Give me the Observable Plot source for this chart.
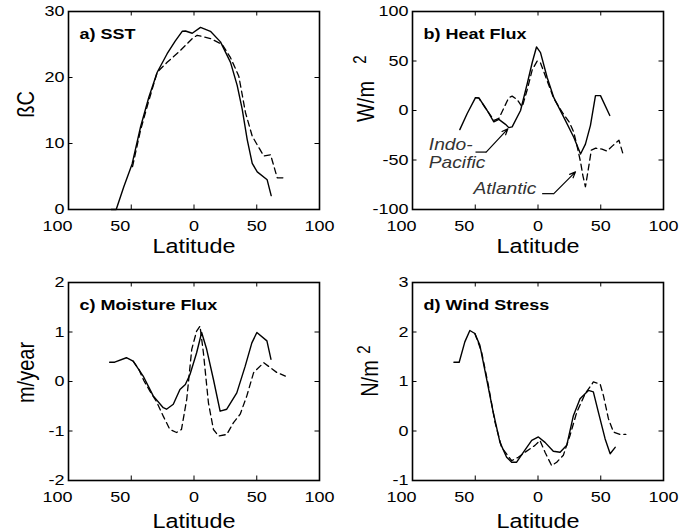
<!DOCTYPE html>
<html><head><meta charset="utf-8">
<script src="https://cdn.jsdelivr.net/npm/d3@7"></script>
<script src="https://cdn.jsdelivr.net/npm/@observablehq/plot@0.6"></script>
<style>
body{margin:0;background:#fff;}
#chart{position:relative;width:687px;height:531px;background:#fff;}
#chart svg{position:absolute;overflow:visible;}
</style></head><body><div id="chart"></div>
<script>
// ---- tick labels ----
const latTicks = [-100, -50, 0, 50, 100];
const sstTicks = [0, 10, 20, 30];
const heatTicks = [-100, -50, 0, 50, 100];
const moistTicks = [-2, -1, 0, 1, 2];
const windTicks = [-1, 0, 1, 2, 3];

// ---- a) SST ----
const sstSolidLat = [-66, -62, -56, -49.3, -42.6, -36, -29.3, -21.4, -15, -9.4, -6.8, -1.4, 5.2, 13.1, 21.1, 29.1, 34.4, 38.4, 42.4, 46.4, 50.4, 58.3, 61.5];
const sstSolidVal = [0, 0, 3.4, 6.9, 12.5, 17, 20.8, 23.6, 25.5, 27.0, 27.05, 26.7, 27.6, 27, 25.4, 22.3, 18.8, 15.2, 10.6, 7.0, 5.7, 4.5, 2.1];
const sstDashLat = [-49, -42.6, -36, -29.3, -21.4, -10.8, -1.4, 2.5, 13.1, 22.5, 29.1, 35.7, 41, 46.4, 55.6, 61, 66.3, 72.9];
const sstDashVal = [6.5, 12, 16.5, 20.8, 22.3, 24.1, 25.9, 26.4, 25.9, 25.0, 23, 20.2, 14.7, 11.1, 8.1, 8.3, 4.8, 4.8];

// ---- b) Heat Flux ----
const heatSolidLat = [-62.3, -56.4, -49.8, -47.1, -40.5, -35.2, -31.2, -25.9, -23.3, -20.6, -13.9, -8.6, -4.6, -1.2, 2, 7.3, 12.6, 20.6, 28.5, 33.9, 37.8, 41.8, 45.8, 49.8, 57.2];
const heatSolidVal = [-19.3, -3, 13, 12.8, 0, -11.5, -9, -14, -17.3, -16.6, 0, 27, 48.5, 64.2, 58.5, 33.3, 13, -7, -27, -44, -34, -15, 15, 15, -5];
const heatDashLat = [-49.8, -47.1, -40.5, -35, -31.2, -27, -23.3, -20.6, -16.6, -12.6, -8.6, -4.6, -0.6, 2, 7.3, 12.6, 20, 25, 28.5, 31.5, 33.9, 35.8, 37.8, 40, 42.5, 46, 51, 55, 60, 64.5, 68];
const heatDashVal = [13, 12.5, 0, -10, -8, 3, 13, 14.5, 11, 3.4, 21, 41, 50, 48, 30, 12, -3, -12, -22, -38, -52, -66, -77, -60, -40, -38, -39, -41, -35, -30, -45];

// ---- c) Moisture Flux ----
const moistSolidLat = [-67.2, -63.2, -53.9, -48.5, -40.5, -32.5, -24.5, -21.9, -16.5, -11.2, -6.9, -3.2, 2.1, 6.1, 10.1, 15.5, 20.8, 26.1, 34.1, 40.8, 46.1, 50.1, 58.1, 61.3];
const moistSolidVal = [0.39, 0.39, 0.48, 0.41, 0.11, -0.29, -0.53, -0.56, -0.46, -0.16, -0.06, 0.14, 0.58, 0.99, 0.65, 0.04, -0.6, -0.56, -0.23, 0.31, 0.78, 0.99, 0.82, 0.45];
const moistDashLat = [-48.5, -44, -40, -35, -30, -24.5, -19.2, -13.9, -10, -5.8, -1.8, 2.1, 4.8, 7.5, 11.5, 15.5, 19.5, 26.1, 31.5, 36.8, 42.1, 47.5, 55.5, 60.8, 66.1, 72.8];
const moistDashVal = [0.41, 0.25, 0.02, -0.2, -0.4, -0.7, -0.97, -1.03, -0.97, -0.36, 0.65, 1.02, 1.12, 0.58, -0.43, -0.97, -1.1, -1.07, -0.83, -0.66, -0.29, 0.18, 0.38, 0.28, 0.18, 0.11];

// ---- d) Wind Stress ----
const windSolidLat = [-67, -62.8, -58.3, -54.3, -50.3, -46.3, -41, -35.7, -30.3, -25, -21, -17, -11.7, -5, 0.3, 5.6, 12.2, 17.6, 22.9, 28.2, 33.5, 40.2, 44.1, 48.1, 53.5, 57.5, 61.5];
const windSolidVal = [1.39, 1.39, 1.8, 2.03, 1.97, 1.73, 1.06, 0.38, -0.23, -0.53, -0.63, -0.63, -0.43, -0.19, -0.12, -0.23, -0.41, -0.43, -0.29, 0.31, 0.65, 0.82, 0.79, 0.38, -0.16, -0.46, -0.33];
const windDashLat = [-50.3, -45, -39.6, -34.3, -29, -21, -15.7, -10.4, -2.4, 1.6, 5.6, 10.9, 14.9, 20.2, 25.5, 30.9, 37.5, 44.1, 49.5, 52.1, 56.1, 60.1, 65.4, 70];
const windDashVal = [1.97, 1.6, 0.93, 0.18, -0.33, -0.6, -0.53, -0.43, -0.29, -0.19, -0.43, -0.7, -0.63, -0.49, -0.09, 0.38, 0.75, 0.99, 0.95, 0.72, 0.25, -0.02, -0.07, -0.07];

// ---- annotations in panel b ----
const annoText = ["Indo-\nPacific", "Atlantic"];
const annoLat = [-87, -51.4];
const annoVal = [-58, -84];
const arrowBaseLat = [-49.8, 3.3];
const arrowElbowLat = [-41.3, 12.6];
const arrowBaseVal = [-42, -84];
const arrowTipLat = [-24, 29.9];
const arrowTipVal = [-18.5, -62];

const rows = (lat, val) => lat.map((x, i) => ({lat: x, v: val[i]}));
const FONT = "'Liberation Sans', Arial, Helvetica, sans-serif";
const STRETCH = 1.2;

function makePanel(cfg) {
  const xDom = [latTicks[0], latTicks[latTicks.length - 1]];
  const yDom = [cfg.yTicks[0], cfg.yTicks[cfg.yTicks.length - 1]];
  const fw = cfg.width - cfg.ml - cfg.mr, fh = cfg.height - cfg.mt - cfg.mb;
  const tickPx = 4.5;
  const xLen = (xDom[1] - xDom[0]) * tickPx / fw;
  const yLen = (yDom[1] - yDom[0]) * tickPx / fh;
  const innerX = latTicks.slice(1, -1);
  const innerY = cfg.yTicks.slice(1, -1);
  const marks = [
    Plot.ruleX(innerX, {x: d => d, y1: yDom[0], y2: yDom[0] + yLen, stroke: "black", strokeWidth: 1}),
    Plot.ruleX(innerX, {x: d => d, y1: yDom[1] - yLen, y2: yDom[1], stroke: "black", strokeWidth: 1}),
    Plot.ruleY(innerY, {y: d => d, x1: xDom[0], x2: xDom[0] + xLen, stroke: "black", strokeWidth: 1}),
    Plot.ruleY(innerY, {y: d => d, x1: xDom[1] - xLen, x2: xDom[1], stroke: "black", strokeWidth: 1}),
    Plot.axisX(latTicks.filter(d => d < 0), {tickSize: 0, tickPadding: 11, tickFormat: d => String(Math.abs(d)), dx: -11, fontSize: 15, label: null, fill: "black"}),
    Plot.axisX(latTicks.filter(d => d >= 0), {tickSize: 0, tickPadding: 11, tickFormat: d => String(d), fontSize: 15, label: null, fill: "black"}),
    Plot.axisY(cfg.yTicks, {tickSize: 0, tickPadding: 4, tickFormat: d => String(d), fontSize: 15, label: null, fill: "black"}),
    Plot.text(["Latitude"], {text: d => d, frameAnchor: "bottom", dy: cfg.xlabDy, lineAnchor: "bottom", fontSize: 19.5, fill: "black"}),
    Plot.text([cfg.title], {text: d => d, frameAnchor: "top-left", dx: 11, dy: 17, textAnchor: "start", lineAnchor: "top", fontWeight: "bold", fontSize: 15, fill: "black"}),
    Plot.text([cfg.ylabel], {text: d => d, frameAnchor: "left", rotate: -90, dx: cfg.ylabDx, dy: cfg.ylabDy, lineAnchor: "bottom", textAnchor: "middle", fontSize: 20, fill: "black"}),
    Plot.line(cfg.solid, {x: "lat", y: "v", stroke: "black", strokeWidth: 1.4}),
    Plot.line(cfg.dashed, {x: "lat", y: "v", stroke: "black", strokeWidth: 1.3, strokeDasharray: "6,4"}),
    Plot.frame({stroke: "black", strokeWidth: 1.6})
  ];
  if (cfg.sup) {
    marks.push(Plot.text([cfg.sup], {text: d => d, frameAnchor: "left", rotate: -90, dx: cfg.supDx, dy: cfg.supDy, lineAnchor: "bottom", textAnchor: "middle", fontSize: 15, fill: "black"}));
  }
  if (cfg.extra) marks.push(...cfg.extra);
  const svg = Plot.plot({
    width: cfg.width, height: cfg.height,
    marginLeft: cfg.ml, marginRight: cfg.mr, marginTop: cfg.mt, marginBottom: cfg.mb,
    x: {domain: xDom, axis: null},
    y: {domain: yDom, axis: null},
    style: {fontFamily: FONT, background: "transparent", overflow: "visible", color: "black"},
    marks
  });
  // MATLAB-style horizontally widened lettering
  d3.select(svg).selectAll("text").each(function () {
    const t = this.getAttribute("transform") || "";
    if (t.includes("rotate")) this.setAttribute("transform", t + ` scale(1,${STRETCH})`);
    else this.setAttribute("transform", t + ` scale(${STRETCH},1)`);
  });
  svg.style.left = cfg.left + "px";
  svg.style.top = cfg.top + "px";
  document.getElementById("chart").appendChild(svg);
}

const annoRows = annoText.map((t, i) => ({t, lat: annoLat[i], v: annoVal[i]}));
const arrowRows = arrowBaseLat.map((x, i) => ({x0: x, x1: arrowElbowLat[i], y0: arrowBaseVal[i], x2: arrowTipLat[i], y2: arrowTipVal[i]}));

makePanel({left: 0, top: 0, width: 343, height: 265, ml: 68, mr: 24, mt: 11, mb: 56,
  yTicks: sstTicks, title: "a) SST", ylabel: "ßC", ylabDx: -35, ylabDy: -6, xlabDy: 43,
  solid: rows(sstSolidLat, sstSolidVal), dashed: rows(sstDashLat, sstDashVal)});

makePanel({left: 343, top: 0, width: 344, height: 265, ml: 69, mr: 24, mt: 11, mb: 56,
  yTicks: heatTicks, title: "b) Heat Flux", ylabel: "W/m", ylabDx: -39, ylabDy: -9, xlabDy: 43,
  sup: "2", supDx: -47, supDy: -51,
  solid: rows(heatSolidLat, heatSolidVal), dashed: rows(heatDashLat, heatDashVal),
  extra: [
    Plot.text(annoRows, {x: "lat", y: "v", text: "t", textAnchor: "start", lineAnchor: "bottom", fontStyle: "italic", fontSize: 16, fill: "#333", lineHeight: 1.1}),
    Plot.link(arrowRows, {x1: "x0", y1: "y0", x2: "x1", y2: "y0", stroke: "black", strokeWidth: 1.2}),
    Plot.arrow(arrowRows, {x1: "x1", y1: "y0", x2: "x2", y2: "y2", stroke: "black", strokeWidth: 1.2, headLength: 8, headAngle: 45})
  ]});

makePanel({left: 0, top: 265, width: 343, height: 266, ml: 68, mr: 24, mt: 17, mb: 51,
  yTicks: moistTicks, title: "c) Moisture Flux", ylabel: "m/year", ylabDx: -35, ylabDy: -9, xlabDy: 47,
  solid: rows(moistSolidLat, moistSolidVal), dashed: rows(moistDashLat, moistDashVal)});

makePanel({left: 343, top: 265, width: 344, height: 266, ml: 69, mr: 24, mt: 17, mb: 51,
  yTicks: windTicks, title: "d) Wind Stress", ylabel: "N/m", ylabDx: -35, ylabDy: -3, xlabDy: 47,
  sup: "2", supDx: -43, supDy: -32,
  solid: rows(windSolidLat, windSolidVal), dashed: rows(windDashLat, windDashVal)});
</script></body></html>
